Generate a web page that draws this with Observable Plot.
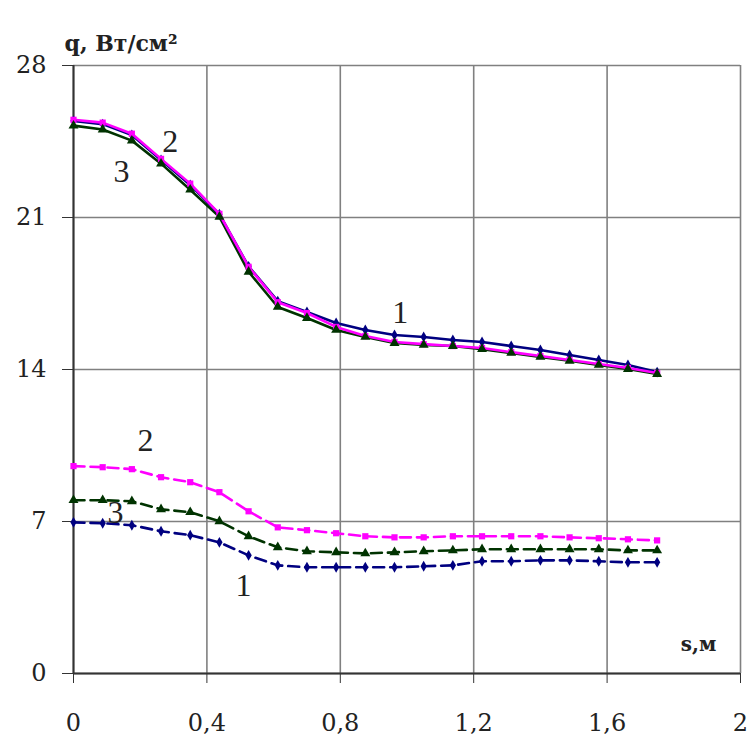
<!DOCTYPE html>
<html><head><meta charset="utf-8">
<script src="https://cdn.jsdelivr.net/npm/d3@7"></script>
<script src="https://cdn.jsdelivr.net/npm/@observablehq/plot@0.6"></script>
<style>
body{margin:0;background:#fff}
</style>
</head><body><div id="chart"></div>
<script>
const s = [0,0.0875,0.175,0.2625,0.35,0.4375,0.525,0.6125,0.7,0.7875,0.875,0.9625,1.05,1.1375,1.225,1.3125,1.4,1.4875,1.575,1.6625,1.75];
const top1 = [25.45,25.3,24.8,23.65,22.5,21.15,18.75,17.15,16.65,16.14,15.82,15.59,15.5,15.36,15.27,15.08,14.9,14.67,14.44,14.21,13.88];
const top2 = [25.5,25.37,24.86,23.7,22.56,21.17,18.73,17.1,16.6,15.96,15.54,15.27,15.17,15.08,14.99,14.8,14.62,14.44,14.25,14.07,13.84];
const top3 = [25.23,25.05,24.54,23.48,22.28,21.03,18.5,16.88,16.37,15.82,15.5,15.22,15.13,15.08,14.94,14.76,14.58,14.4,14.21,14.02,13.79];
const bot1 = [6.96,6.92,6.83,6.55,6.37,6.04,5.44,4.98,4.89,4.89,4.89,4.89,4.94,4.98,5.17,5.17,5.21,5.21,5.17,5.12,5.12];
const bot2 = [9.55,9.5,9.41,9.04,8.81,8.35,7.47,6.73,6.6,6.46,6.32,6.27,6.27,6.32,6.32,6.32,6.32,6.27,6.23,6.18,6.13];
const bot3 = [7.98,7.98,7.93,7.56,7.43,7.01,6.32,5.81,5.63,5.58,5.53,5.58,5.63,5.67,5.72,5.72,5.72,5.72,5.72,5.67,5.67];
const xTicks = [0,0.4,0.8,1.2,1.6,2];
const yTicks = [0,7,14,21,28];
const curveLabels = ["1","2","3","2","3","1"];
const curveLabelX = [0.98,0.29,0.144,0.216,0.126,0.51];
const curveLabelY = [16.6,24.5,23.1,10.73,7.41,4.05];

const pts = a => s.map((x,i)=>({x, y:a[i]}));
const labels = curveLabels.map((t,i)=>({t, x:curveLabelX[i], y:curveLabelY[i]}));
const comma = d => String(d).replace(".", ",");
const BLUE="#000080", MAG="#ff00ff", GRN="#003300";
const INK="#222";
const TIMES = "Liberation Serif, serif";
const WIDE = "DejaVu Serif, serif";

const chart = Plot.plot({
  width: 749, height: 738,
  marginLeft: 73, marginRight: 9, marginTop: 65, marginBottom: 65,
  style: {background: "#fff"},
  x: {domain: [0,2], label: null},
  y: {domain: [0,28], label: null},
  marks: [
    Plot.ruleX(xTicks, {stroke: "#808080", strokeWidth: 1.6}),
    Plot.ruleY(yTicks, {stroke: "#808080", strokeWidth: 1.6}),
    Plot.axisX({ticks: xTicks, tickFormat: comma, tickSize: 10, tickPadding: 30, fontSize: 24, fontFamily: WIDE, stroke: "#333", fill: INK, label: null}),
    Plot.axisY({ticks: yTicks, tickSize: 11, tickPadding: 16, fontSize: 24, fontFamily: WIDE, stroke: "#333", fill: INK, label: null}),
    Plot.ruleX([0], {stroke: "#333", strokeWidth: 2}),
    Plot.ruleY([0], {stroke: "#333", strokeWidth: 2}),
    Plot.line(pts(top3), {x:"x", y:"y", stroke: GRN, strokeWidth: 2.6}),
    Plot.line(pts(top1), {x:"x", y:"y", stroke: BLUE, strokeWidth: 2.6}),
    Plot.line(pts(top2), {x:"x", y:"y", stroke: MAG, strokeWidth: 2.6}),
    Plot.line(pts(bot1), {x:"x", y:"y", stroke: BLUE, strokeWidth: 2.6, strokeDasharray: "11,6"}),
    Plot.line(pts(bot3), {x:"x", y:"y", stroke: GRN, strokeWidth: 2.6, strokeDasharray: "11,6"}),
    Plot.line(pts(bot2), {x:"x", y:"y", stroke: MAG, strokeWidth: 2.6, strokeDasharray: "11,6"}),
    Plot.dot(pts(top1), {x:"x", y:"y", symbol: "diamond", r: 3.3, fill: BLUE}),
    Plot.dot(pts(bot1), {x:"x", y:"y", symbol: "diamond", r: 3.3, fill: BLUE}),
    Plot.dot(pts(top2), {x:"x", y:"y", symbol: "square", r: 3.5, fill: MAG}),
    Plot.dot(pts(bot2), {x:"x", y:"y", symbol: "square", r: 3.5, fill: MAG}),
    Plot.dot(pts(top3), {x:"x", y:"y", symbol: "triangle", r: 3.7, fill: GRN}),
    Plot.dot(pts(bot3), {x:"x", y:"y", symbol: "triangle", r: 3.7, fill: GRN}),
    Plot.text(labels, {x:"x", y:"y", text:"t", fontSize: 32, fontFamily: TIMES, fill: INK}),
    Plot.text(["q, Вт/см²"], {frameAnchor: "top-left", textAnchor: "start", dx: -9, dy: -30, fontSize: 22, fontWeight: "bold", fontFamily: WIDE, fill: INK}),
    Plot.text(["s,м"], {frameAnchor: "bottom-right", textAnchor: "middle", dx: -42, dy: -23, fontSize: 20, fontWeight: "bold", fontFamily: WIDE, fill: INK})
  ]
});
document.getElementById("chart").appendChild(chart);
</script>
</body></html>
